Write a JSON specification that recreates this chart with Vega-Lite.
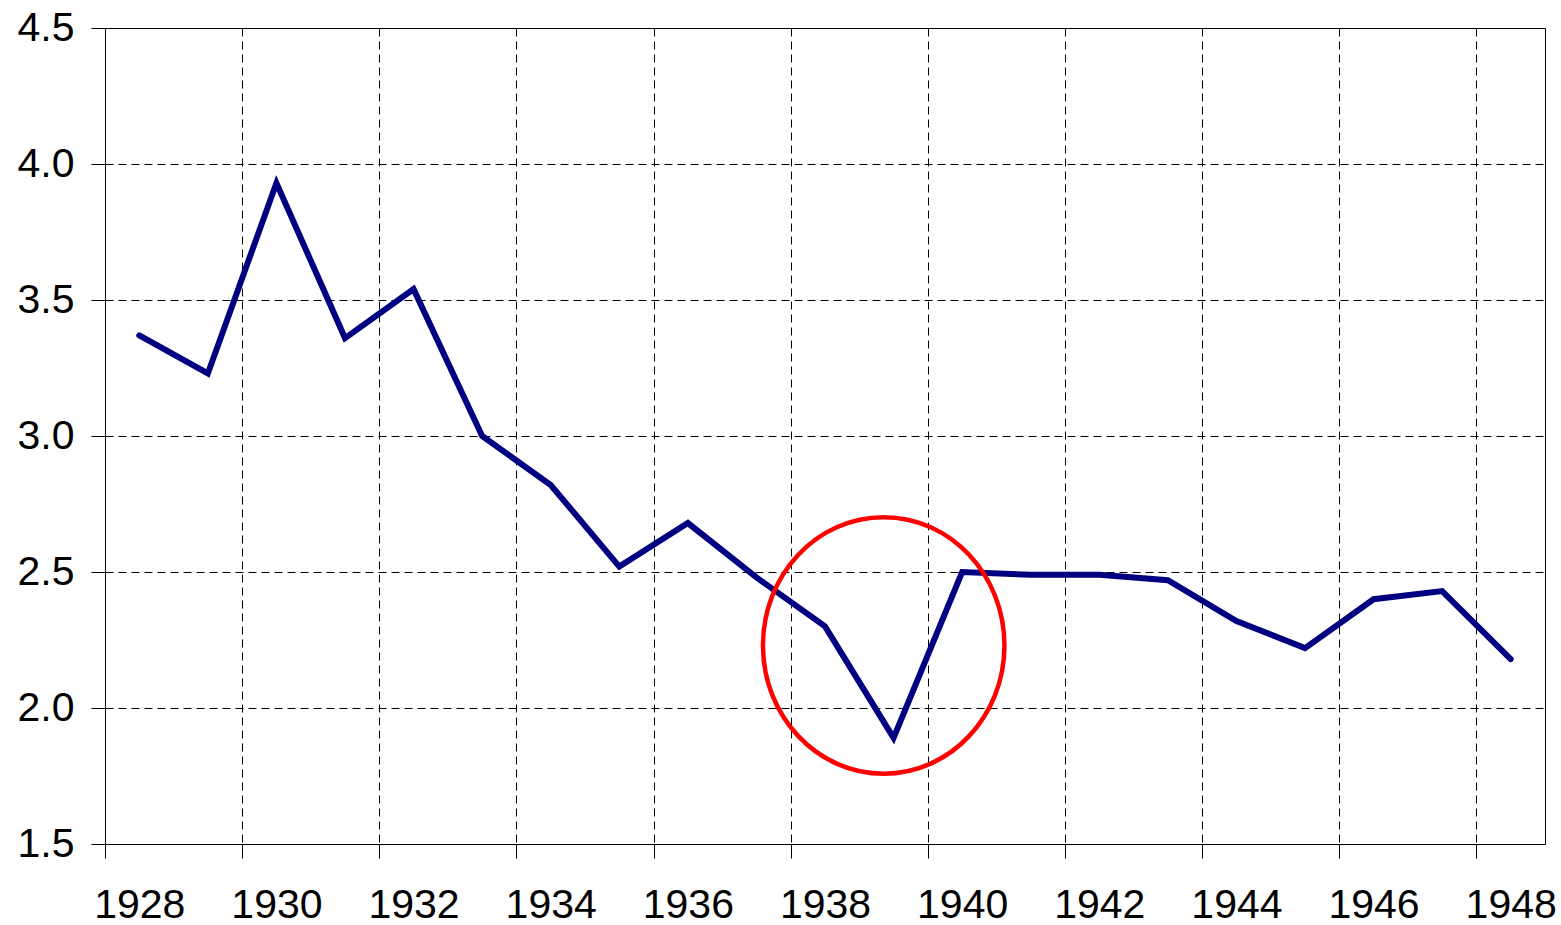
{
  "$schema": "https://vega.github.io/schema/vega-lite/v6.json",
  "width": 1440,
  "height": 816,
  "autosize": {"type": "none"},
  "padding": {"left": 105, "top": 28, "right": 16, "bottom": 81},
  "background": "white",
  "config": {
    "view": {"stroke": "black", "strokeWidth": 1},
    "axis": {
      "labelFont": "Liberation Sans",
      "labelFontSize": 41,
      "labelColor": "black",
      "domainColor": "black",
      "domainWidth": 1,
      "tickColor": "black",
      "tickWidth": 1,
      "tickSize": 14,
      "gridColor": "black",
      "gridWidth": 1,
      "gridDash": [8, 5],
      "gridOpacity": 1,
      "title": null
    }
  },
  "layer": [
    {
      "data": {
        "values": [
          {"year": 1928, "value": 3.37},
          {"year": 1929, "value": 3.23},
          {"year": 1930, "value": 3.93},
          {"year": 1931, "value": 3.36},
          {"year": 1932, "value": 3.54},
          {"year": 1933, "value": 3.00},
          {"year": 1934, "value": 2.82},
          {"year": 1935, "value": 2.52},
          {"year": 1936, "value": 2.68},
          {"year": 1937, "value": 2.48},
          {"year": 1938, "value": 2.30},
          {"year": 1939, "value": 1.89},
          {"year": 1940, "value": 2.50},
          {"year": 1941, "value": 2.49},
          {"year": 1942, "value": 2.49},
          {"year": 1943, "value": 2.47},
          {"year": 1944, "value": 2.32},
          {"year": 1945, "value": 2.22},
          {"year": 1946, "value": 2.40},
          {"year": 1947, "value": 2.43},
          {"year": 1948, "value": 2.18}
        ]
      },
      "mark": {"type": "line", "color": "#000080", "strokeWidth": 6, "strokeCap": "round", "strokeJoin": "miter"},
      "encoding": {
        "x": {
          "field": "year",
          "type": "quantitative",
          "scale": {"domain": [1927.5, 1948.5], "nice": false, "zero": false},
          "axis": {
            "values": [1927.5, 1929.5, 1931.5, 1933.5, 1935.5, 1937.5, 1939.5, 1941.5, 1943.5, 1945.5, 1947.5],
            "labelExpr": "format(datum.value + 0.5, 'd')",
            "labelOffset": 34.29,
            "labelPadding": 27,
            "labelFlush": false,
            "labelOverlap": false,
            "grid": true
          }
        },
        "y": {
          "field": "value",
          "type": "quantitative",
          "scale": {"domain": [1.5, 4.5], "nice": false, "zero": false},
          "axis": {
            "values": [1.5, 2.0, 2.5, 3.0, 3.5, 4.0, 4.5],
            "format": ".1f",
            "labelPadding": 17,
            "labelFlush": false,
            "labelOverlap": false,
            "grid": true
          }
        }
      }
    },
    {
      "data": {"values": [{"year": 1938.856, "value": 2.23}]},
      "mark": {
        "type": "point",
        "shape": "M 0.9415 0 C 0.9415 0.5523 0.52 1 0 1 C -0.52 1 -0.9415 0.5523 -0.9415 0 C -0.9415 -0.5523 -0.52 -1 0 -1 C 0.52 -1 0.9415 -0.5523 0.9415 0 Z",
        "size": 65792,
        "filled": false,
        "stroke": "#FF0000",
        "strokeWidth": 4.5,
        "opacity": 1
      },
      "encoding": {
        "x": {"field": "year", "type": "quantitative"},
        "y": {"field": "value", "type": "quantitative"}
      }
    }
  ]
}
